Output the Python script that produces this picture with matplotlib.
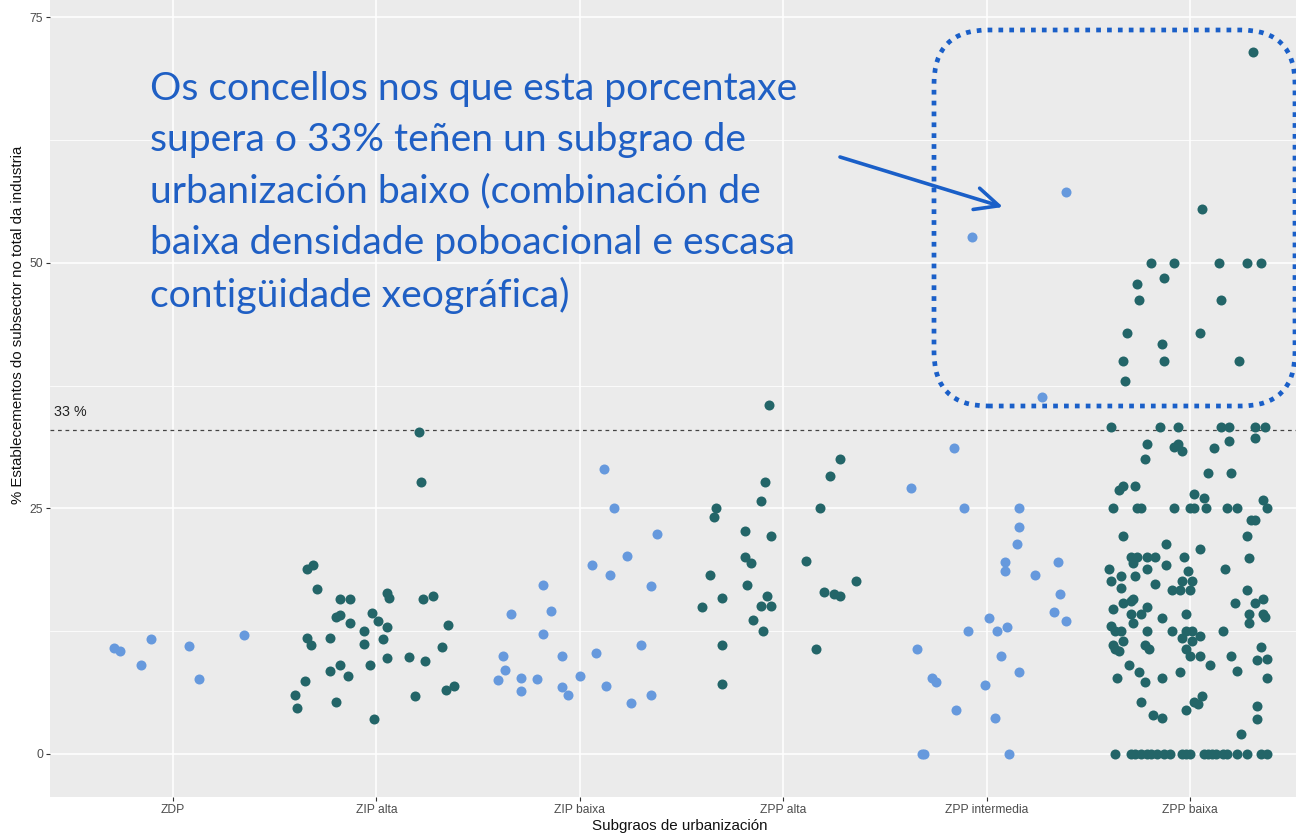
import matplotlib.pyplot as plt
import matplotlib.patches as mpatches
from matplotlib.transforms import IdentityTransform

LIGHT = '#6699dd'
DARK = '#236568'
NOTE_BLUE = '#1f5fc4'

categories = ['ZDP', 'ZIP alta', 'ZIP baixa', 'ZPP alta', 'ZPP intermedia', 'ZPP baixa']
cat_colors = [LIGHT, DARK, LIGHT, DARK, LIGHT, DARK]

# jitter offset (category units) and % value for each concello
zdp_jit = [-0.29, -0.26, -0.11, -0.16, 0.08, 0.13, 0.35]
zdp_val = [10.8, 10.5, 11.7, 9.1, 11.0, 7.6, 12.15]

zip_alta_jit = [0.21, 0.22, -0.34, -0.31, -0.29, -0.18, -0.13, -0.20, -0.18, -0.13,
                -0.02, -0.06, 0.01, 0.05, 0.05, 0.06, 0.23, 0.28, 0.35, -0.34,
                -0.32, -0.23, -0.06, 0.03, 0.32, 0.05, 0.16, 0.24, -0.18, -0.03,
                -0.23, -0.14, -0.35, -0.40, -0.39, -0.20, -0.01, 0.19, 0.34, 0.38]
zip_alta_val = [32.8, 27.7, 18.8, 19.2, 16.8, 15.75, 15.75, 14.0, 14.15, 13.3,
                14.4, 12.5, 13.5, 12.9, 16.4, 15.85, 15.75, 16.05, 13.1, 11.8,
                11.1, 11.8, 11.2, 11.7, 10.9, 9.8, 9.9, 9.5, 9.1, 9.1,
                8.4, 7.9, 7.4, 6.0, 4.7, 5.3, 3.6, 5.9, 6.5, 6.95]

zip_baixa_jit = [0.12, 0.17, 0.38, 0.23, 0.06, 0.15, 0.35, -0.18, -0.34, -0.14,
                 -0.18, -0.38, -0.09, 0.08, 0.30, -0.37, -0.40, -0.29, -0.21, 0.00,
                 -0.29, -0.09, -0.06, 0.13, 0.35, 0.25]
zip_baixa_val = [29.05, 25.05, 22.4, 20.2, 19.2, 18.2, 17.1, 17.2, 14.25, 14.6,
                 12.2, 10.0, 10.0, 10.3, 11.1, 8.6, 7.5, 7.7, 7.6, 7.9,
                 6.4, 6.85, 6.0, 6.95, 6.0, 5.15]

zpp_alta_jit = [-0.07, 0.28, 0.23, -0.09, -0.11, -0.33, -0.34, 0.18, -0.19, -0.06,
                -0.19, -0.16, 0.11, -0.36, 0.36, -0.18, 0.20, 0.25, 0.28, -0.30,
                -0.08, -0.40, -0.11, -0.06, -0.15, -0.10, -0.30, 0.16, -0.30]
zpp_alta_val = [35.5, 30.0, 28.3, 27.7, 25.8, 25.05, 24.1, 25.05, 22.75, 22.2,
                20.05, 19.4, 19.7, 18.2, 17.6, 17.2, 16.45, 16.25, 16.05, 15.85,
                16.05, 15.0, 15.1, 15.1, 13.65, 12.5, 11.1, 10.7, 7.15]

zpp_int_jit = [0.39, -0.07, 0.27, -0.16, -0.37, -0.11, 0.16, 0.16, 0.15, 0.09,
               0.09, 0.35, 0.24, 0.36, 0.33, 0.39, 0.01, -0.09, 0.05, 0.10,
               -0.34, 0.07, 0.16, -0.27, -0.25, -0.01, -0.15, 0.04, -0.32, -0.31,
               0.11]
zpp_int_val = [57.2, 52.6, 36.4, 31.2, 27.05, 25.05, 25.05, 23.1, 21.4, 19.6,
               18.6, 19.5, 18.2, 16.25, 14.5, 13.55, 13.85, 12.5, 12.5, 12.9,
               10.7, 10.0, 8.3, 7.7, 7.3, 7.05, 4.5, 3.65, 0, 0,
               0]

zpp_baixa_jit = [0.31, 0.06, -0.19, -0.08, 0.14, 0.28, 0.35, -0.13, -0.26, -0.25,
                 0.15, -0.31, 0.05, -0.14, -0.33, -0.13, 0.24, -0.32,
                 -0.39, -0.15, -0.06, 0.15, 0.19, 0.32, 0.37,
                 0.19, -0.21, -0.08, -0.06, -0.04, 0.12, 0.32, -0.22, 0.09, 0.20,
                 -0.35, -0.33, -0.27, 0.02, 0.07, 0.36,
                 -0.38, -0.26, -0.24, -0.08, 0.00, 0.02, 0.08, 0.18, 0.23, 0.38,
                 0.30, 0.32, 0.28, -0.33, -0.12, 0.05,
                 -0.29, -0.26, -0.21, -0.17, -0.03, 0.29,
                 -0.28, -0.12, -0.40, -0.21, 0.17, -0.01, -0.34, -0.27, -0.39, -0.04,
                 0.01, -0.17, -0.34, -0.09, -0.05, 0.00, 0.28,
                 -0.33, -0.29, -0.28, 0.22, 0.32, 0.36, -0.21, -0.38,
                 -0.29, -0.24, -0.02, 0.29, 0.36, 0.37, -0.14, -0.28, 0.29,
                 -0.39, -0.37, -0.34, -0.21, -0.09, -0.02, 0.01, 0.16,
                 0.05, -0.04, 0.01, -0.33, -0.38, -0.37, -0.35, -0.22, -0.20, 0.35,
                 -0.02, 0.00, 0.05, 0.20, 0.33, 0.38, -0.30, 0.10, 0.23, -0.25,
                 -0.05, -0.36, -0.14, 0.38, -0.22, 0.06, 0.02, 0.04, -0.24, -0.02,
                 0.33, -0.18, -0.14, 0.33, 0.25,
                 -0.37, -0.29, -0.27, -0.24, -0.21, -0.19, -0.16, -0.13, -0.10, -0.04,
                 -0.02, 0.00, 0.07, 0.09, 0.11, 0.13, 0.16, 0.18, 0.23, 0.28,
                 0.35, 0.38]
zpp_baixa_val = [71.5, 55.5, 50, 50, 50, 50, 50, 48.5, 47.9, 46.2,
                 46.2, 42.9, 42.9, 41.75, 40.05, 40.05, 40.05, 38.0,
                 33.3, 33.3, 33.3, 33.3, 33.3, 33.3, 33.3,
                 31.9, 31.6, 31.3, 31.6, 30.85, 31.2, 32.2, 30.0, 28.6, 28.6,
                 26.85, 27.3, 27.25, 26.5, 26.1, 25.9,
                 25.05, 25.05, 25.05, 25.05, 25.05, 25.05, 25.05, 25.05, 25.05, 25.05,
                 23.8, 23.8, 22.2, 22.2, 21.4, 20.85,
                 20.05, 20.05, 20.05, 20.05, 20.05, 20.0,
                 19.4, 19.2, 18.8, 18.8, 18.8, 18.6, 18.15, 18.15, 17.6, 17.6,
                 17.6, 17.3, 16.9, 16.65, 16.65, 16.65, 16.65,
                 15.4, 15.6, 15.8, 15.4, 15.4, 15.75, 15.0, 14.8,
                 14.25, 14.25, 14.25, 14.25, 14.25, 13.9, 13.85, 13.3, 13.3,
                 13.0, 12.5, 12.5, 12.5, 12.5, 12.5, 12.5, 12.5,
                 12.0, 11.8, 11.55, 11.55, 11.1, 10.7, 10.5, 11.1, 10.7, 10.9,
                 10.7, 10.0, 10.0, 10.0, 9.6, 9.7, 9.1, 9.1, 8.5, 8.3,
                 8.3, 7.7, 7.7, 7.7, 7.3, 5.9, 5.25, 5.05, 5.25, 4.5,
                 4.9, 4.0, 3.65, 3.55, 2.0,
                 0, 0, 0, 0, 0, 0, 0, 0, 0, 0,
                 0, 0, 0, 0, 0, 0, 0, 0, 0, 0,
                 0, 0]

jitters = [zdp_jit, zip_alta_jit, zip_baixa_jit, zpp_alta_jit, zpp_int_jit, zpp_baixa_jit]
values = [zdp_val, zip_alta_val, zip_baixa_val, zpp_alta_val, zpp_int_val, zpp_baixa_val]

threshold = 33
note = ('Os concellos nos que esta porcentaxe\n'
        'supera o 33% teñen un subgrao de\n'
        'urbanización baixo (combinación de\n'
        'baixa densidade poboacional e escasa\n'
        'contigüidade xeográfica)')

W, H = 1296, 835
PANEL_H = 796.7
fig = plt.figure(figsize=(W / 100, H / 100), dpi=100)
ax = fig.add_axes([50 / W, (H - PANEL_H) / H, (W - 50) / W, PANEL_H / H])
ax.set_facecolor('#ebebeb')
for s in ax.spines.values():
    s.set_visible(False)

ax.set_xlim(0.395, 6.521)
ax.set_ylim(-4.35, 76.78)

# ggplot-like grid
for yv in [12.5, 37.5, 62.5]:
    ax.axhline(yv, color='white', lw=0.55, zorder=0)
for yv in [0, 25, 50, 75]:
    ax.axhline(yv, color='white', lw=1.1, zorder=0)
for i in range(len(categories)):
    ax.axvline(i + 1, color='white', lw=1.1, zorder=0)

for i, (jit, val) in enumerate(zip(jitters, values)):
    xs = [i + 1 + j for j in jit]
    ax.scatter(xs, val, s=52, color=cat_colors[i], linewidths=0, zorder=3)

ax.axhline(threshold, color='#444444', lw=0.9, ls=(0, (3, 3)), zorder=2)
ax.text(0.415, threshold + 1.1, '33 %', fontsize=10.3, color='#222222',
        family='Liberation Sans', va='bottom', ha='left')

ax.set_xticks(range(1, len(categories) + 1))
ax.set_xticklabels(categories)
ax.set_yticks([0, 25, 50, 75])
ax.tick_params(axis='both', colors='#333333', length=3, width=0.8,
               labelsize=8.7, labelcolor='#4d4d4d', pad=2)
for lab in ax.get_xticklabels() + ax.get_yticklabels():
    lab.set_family('Liberation Sans')

ax.set_xlabel('Subgraos de urbanización', fontsize=10.9, family='Liberation Sans',
              color='#111111')
ax.xaxis.set_label_coords((680 - 50) / (W - 50), -(819 - PANEL_H) / PANEL_H)
ax.set_ylabel('% Establecementos do subsector no total da industria', fontsize=10.8,
              family='Liberation Sans', color='#111111')
ax.yaxis.set_label_coords(-(50 - 25) / (W - 50), (PANEL_H - 325) / PANEL_H)

# annotation text
fig.text(150 / W, 1 - 71 / H, note, fontsize=28.2, color=NOTE_BLUE, family='Lato',
         va='top', ha='left', linespacing=1.53)

# dotted rounded box (pixel coords, origin bottom-left)
box = mpatches.FancyBboxPatch((934, H - 406), 1295 - 934, 406 - 30,
                              boxstyle='round,pad=0,rounding_size=54',
                              transform=IdentityTransform(), fill=False,
                              edgecolor='#1a5fc8', lw=3.4, ls=(0, (1, 1.3)),
                              capstyle='butt', zorder=5)
fig.patches.append(box)

ax.annotate('', xy=(1003, H - 207), xytext=(840, H - 157),
            xycoords='figure pixels', textcoords='figure pixels',
            arrowprops=dict(arrowstyle='->,head_length=1.7,head_width=0.8',
                            color='#1a5fc8', lw=2.6, shrinkA=0, shrinkB=0))

fig.savefig('out.png', dpi=100)
